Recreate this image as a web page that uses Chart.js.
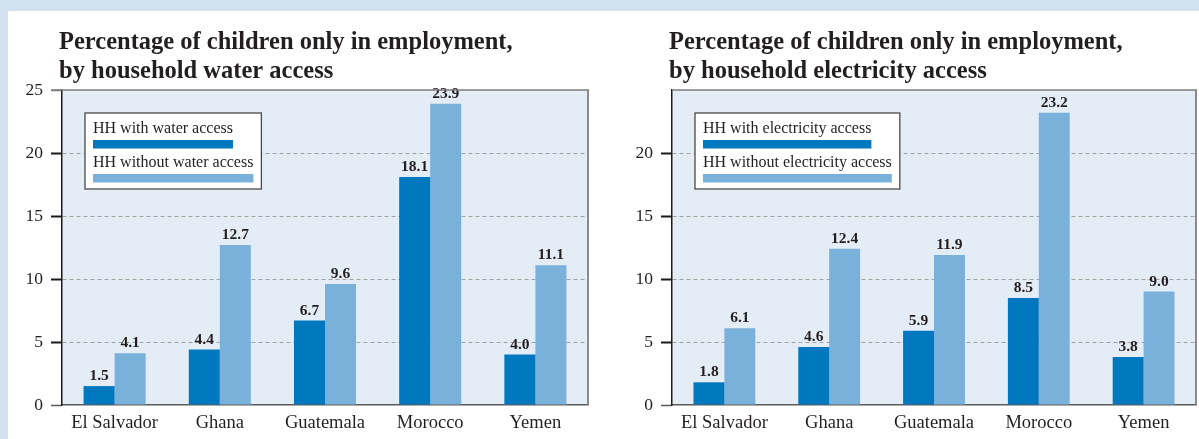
<!DOCTYPE html>
<html><head><meta charset="utf-8">
<script src="https://cdn.jsdelivr.net/npm/chart.js@4.4.1/dist/chart.umd.min.js"></script>
<style>
html,body{margin:0;padding:0;background:#d3e2f1;}
body{width:1199px;height:439px;position:relative;overflow:hidden;}
#panel{position:absolute;left:8px;top:11px;width:1191px;height:428px;background:#fff;}
#c1{position:absolute;left:0;top:0;}
#c2{position:absolute;left:592px;top:0;}
</style></head><body>
<div id="panel"><canvas id="c1" width="592" height="428"></canvas><canvas id="c2" width="599" height="428"></canvas></div>
<script>
const countries = ['El Salvador','Ghana','Guatemala','Morocco','Yemen'];
const waterWith = [1.5, 4.4, 6.7, 18.1, 4.0];
const waterWithout = [4.1, 12.7, 9.6, 23.9, 11.1];
const elecWith = [1.8, 4.6, 5.9, 8.5, 3.8];
const elecWithout = [6.1, 12.4, 11.9, 23.2, 9.0];
const titleWater = ['Percentage of children only in employment,', 'by household water access'];
const titleElec = ['Percentage of children only in employment,', 'by household electricity access'];
const legendWater = ['HH with water access', 'HH without water access'];
const legendElec = ['HH with electricity access', 'HH without electricity access'];
const yMin = 0, yMax = 25, yStep = 5;

const DARK = '#0078c0', LIGHT = '#7ab1db', PLOTBG = '#e4ecf6', TXT = '#231f20';
const SERIF = '"Liberation Serif", "DejaVu Serif", serif';

const framePlugin = {
  id: 'frame',
  beforeDraw(chart) {
    const a = chart.chartArea, c = chart.ctx;
    c.save(); c.fillStyle = PLOTBG; c.fillRect(a.left, a.top, a.right - a.left, a.bottom - a.top); c.restore();
  },
  afterDraw(chart) {
    const a = chart.chartArea, c = chart.ctx, o = chart.options.plugins.frame;
    c.save();
    c.strokeStyle = '#7d7d7d'; c.lineWidth = 1.5;
    c.beginPath(); c.moveTo(o.show25 ? a.left - 11 : a.left, a.top); c.lineTo(a.right + 1, a.top); c.stroke();
    c.strokeStyle = '#8a8a8a'; c.lineWidth = 2;
    c.beginPath(); c.moveTo(a.right, a.top); c.lineTo(a.right, a.bottom); c.stroke();
    // title
    c.fillStyle = TXT; c.font = 'bold 24.5px ' + SERIF; c.textAlign = 'left'; c.textBaseline = 'alphabetic';
    o.title.forEach((t, i) => c.fillText(t, a.left - 3, 38 + i * 29));
    // legend
    c.font = '16px ' + SERIF;
    const ds = chart.data.datasets;
    const widths = ds.map(d => c.measureText(d.label).width);
    const bx = a.left + 23, by = a.top + 23, pad = 8;
    const bw = Math.max(...widths) + pad * 2, bh = 76;
    c.fillStyle = '#ffffff'; c.fillRect(bx, by, bw, bh);
    c.strokeStyle = '#4a4a4a'; c.lineWidth = 1.3; c.strokeRect(bx, by, bw, bh);
    ds.forEach((d, i) => {
      const ty = by + 20 + i * 34;
      c.fillStyle = TXT; c.fillText(d.label, bx + pad, ty);
      c.fillStyle = d.backgroundColor; c.fillRect(bx + pad, ty + 7, widths[i], 8.5);
    });
    c.restore();
  }
};

const valuePlugin = {
  id: 'values',
  afterDatasetsDraw(chart) {
    const c = chart.ctx;
    c.save(); c.fillStyle = TXT; c.font = 'bold 15.5px ' + SERIF; c.textAlign = 'center'; c.textBaseline = 'alphabetic';
    chart.data.datasets.forEach((d, di) => {
      chart.getDatasetMeta(di).data.forEach((bar, i) => {
        c.fillText(d.data[i].toFixed(1), bar.x, bar.y - 6);
      });
    });
    c.restore();
  }
};

function make(id, title, legend, d1, d2, areaLeft, padRight, show25) {
  const edge = v => v === yMin || v === yMax;
  return new Chart(document.getElementById(id), {
    type: 'bar',
    data: {
      labels: countries,
      datasets: [
        { label: legend[0], data: d1, backgroundColor: DARK, categoryPercentage: 0.59, barPercentage: 1.0 },
        { label: legend[1], data: d2, backgroundColor: LIGHT, categoryPercentage: 0.59, barPercentage: 1.0 }
      ]
    },
    options: {
      responsive: false, animation: false, events: [],
      layout: { padding: { top: 79, right: padRight, left: 0, bottom: 0 } },
      plugins: { legend: { display: false }, title: { display: false }, tooltip: { enabled: false },
        frame: { show25: show25, title: title } },
      scales: {
        x: {
          afterFit: s => { s.height = 34; },
          grid: { display: false, drawTicks: false },
          border: { display: true, color: '#5a5a5a', width: 1.5 },
          ticks: { color: TXT, padding: 7, font: { family: SERIF, size: 18.5 } }
        },
        y: {
          min: yMin, max: yMax,
          afterFit: s => { s.width = areaLeft; },
          grid: {
            color: ctx => edge(ctx.tick.value) ? 'rgba(0,0,0,0)' : '#a3a3a3',
            lineWidth: 1,
            tickLength: 11,
            tickColor: ctx => ctx.tick.value === yMax ? (show25 ? '#7d7d7d' : 'rgba(0,0,0,0)') : (ctx.tick.value === yMin ? '#5a5a5a' : '#1a1a1a'),
            tickWidth: ctx => edge(ctx.tick.value) ? 1.5 : 2,
            tickBorderDash: []
          },
          border: { display: true, color: '#1a1a1a', width: 1.5, dash: [4, 3] },
          ticks: { stepSize: yStep, color: TXT, padding: 8, font: { family: SERIF, size: 17.5 },
            callback: v => (v === yMax && !show25) ? '' : v }
        }
      }
    },
    plugins: [framePlugin, valuePlugin]
  });
}

make('c1', titleWater, legendWater, waterWith, waterWithout, 54, 12, true);
make('c2', titleElec, legendElec, elecWith, elecWithout, 72, 3, false);
</script>
</body></html>
